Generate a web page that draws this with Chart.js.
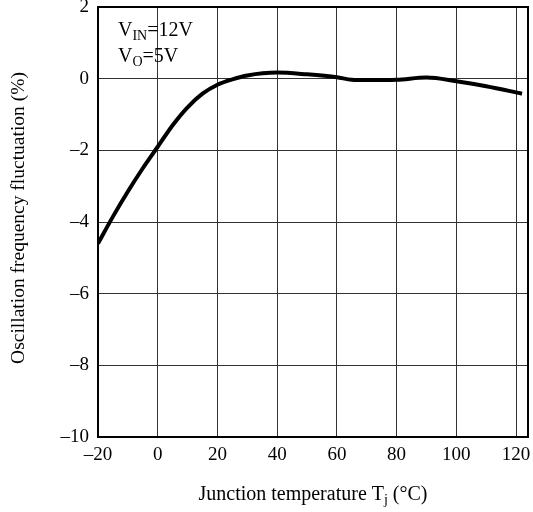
<!DOCTYPE html>
<html>
<head>
<meta charset="utf-8">
<script src="https://cdn.jsdelivr.net/npm/chart.js@4/dist/chart.umd.min.js"></script>
<style>
html,body{margin:0;padding:0;background:#fff;}
#wrap{position:absolute;left:0;top:0;width:533px;height:512px;}
</style>
</head>
<body>
<div id="wrap"><canvas id="c" width="533" height="512"></canvas></div>
<script>
// Junction temperature (°C)
const temps = [-20, -15, -10, -5, 0, 5, 10, 15, 20, 25, 30, 40, 50, 60, 65, 70, 80, 90, 100, 110, 122];
// Oscillation frequency fluctuation (%)
const fluct = [-4.6, -3.85, -3.15, -2.5, -1.9, -1.3, -0.8, -0.42, -0.17, -0.02, 0.09, 0.17, 0.12, 0.04, -0.03, -0.04, -0.03, 0.03, -0.07, -0.21, -0.42];
const xTicks = [-20, 0, 20, 40, 60, 80, 100, 120];
const yTicks = [2, 0, -2, -4, -6, -8, -10];
const xRange = [-20, 124];
const yRange = [-10, 2];
const xTitle = ['Junction temperature T', 'j', ' (°C)'];
const yTitle = 'Oscillation frequency fluctuation (%)';
const noteLines = [['V', 'IN', '=12V'], ['V', 'O', '=5V']];

const SERIF = '"Liberation Serif", "Times New Roman", serif';
const fmt = v => String(v).replace('-', '\u2013');

const decor = {
  id: 'decor',
  afterDraw(chart) {
    const ctx = chart.ctx, a = chart.chartArea;
    ctx.save();
    // frame
    ctx.strokeStyle = '#000';
    ctx.lineWidth = 2;
    ctx.strokeRect(a.left, a.top, a.right - a.left, a.bottom - a.top);
    ctx.fillStyle = '#000';
    // x title with subscript
    const big = '20px ' + SERIF, small = '14px ' + SERIF;
    ctx.textBaseline = 'alphabetic';
    ctx.textAlign = 'left';
    ctx.font = big; const w1 = ctx.measureText(xTitle[0]).width;
    ctx.font = small; const w2 = ctx.measureText(xTitle[1]).width;
    ctx.font = big; const w3 = ctx.measureText(xTitle[2]).width;
    let x0 = (a.left + a.right) / 2 - (w1 + w2 + w3) / 2;
    const by = 500;
    ctx.font = big; ctx.fillText(xTitle[0], x0, by);
    ctx.font = small; ctx.fillText(xTitle[1], x0 + w1, by + 4);
    ctx.font = big; ctx.fillText(xTitle[2], x0 + w1 + w2, by);
    // y title
    ctx.save();
    ctx.translate(19, 218);
    ctx.rotate(-Math.PI / 2);
    ctx.textAlign = 'center';
    ctx.textBaseline = 'middle';
    ctx.font = '19.5px ' + SERIF;
    ctx.fillText(yTitle, 0, 0);
    ctx.restore();
    // note
    const nb = '20px ' + SERIF, ns = '14px ' + SERIF;
    const baselines = [36, 62];
    noteLines.forEach((ln, i) => {
      let x = 118;
      ctx.textAlign = 'left';
      ctx.font = nb; ctx.fillText(ln[0], x, baselines[i]); x += ctx.measureText(ln[0]).width;
      ctx.font = ns; ctx.fillText(ln[1], x, baselines[i] + 4); x += ctx.measureText(ln[1]).width;
      ctx.font = nb; ctx.fillText(ln[2], x, baselines[i]);
    });
    ctx.restore();
  }
};

new Chart(document.getElementById('c'), {
  type: 'line',
  data: {
    datasets: [{
      data: temps.map((t, i) => ({x: t, y: fluct[i]})),
      borderColor: '#000',
      borderWidth: 4,
      pointRadius: 0,
      cubicInterpolationMode: 'monotone',
      fill: false
    }]
  },
  options: {
    responsive: false,
    animation: false,
    devicePixelRatio: 1,
    layout: {padding: {left: 0, right: 5, top: 7, bottom: 0}},
    plugins: {legend: {display: false}, tooltip: {enabled: false}},
    scales: {
      x: {
        type: 'linear',
        min: xRange[0], max: xRange[1],
        afterBuildTicks: s => { s.ticks = xTicks.map(v => ({value: v})); },
        afterFit: s => { s.height = 75; s.paddingLeft = 0; s.paddingRight = 0; },
        grid: {color: '#333', lineWidth: 1, drawTicks: false},
        border: {display: false},
        ticks: {
          color: '#000', padding: 7, maxRotation: 0, autoSkip: false,
          font: {family: SERIF, size: 19},
          callback: v => fmt(v)
        }
      },
      y: {
        type: 'linear',
        min: yRange[0], max: yRange[1],
        afterBuildTicks: s => { s.ticks = yTicks.map(v => ({value: v})); },
        afterFit: s => { s.width = 98; s.paddingTop = 0; s.paddingBottom = 0; },
        grid: {color: '#333', lineWidth: 1, drawTicks: false},
        border: {display: false},
        ticks: {
          color: '#000', padding: 9, autoSkip: false,
          font: {family: SERIF, size: 19},
          callback: v => fmt(v)
        }
      }
    }
  },
  plugins: [decor]
});
</script>
</body>
</html>
